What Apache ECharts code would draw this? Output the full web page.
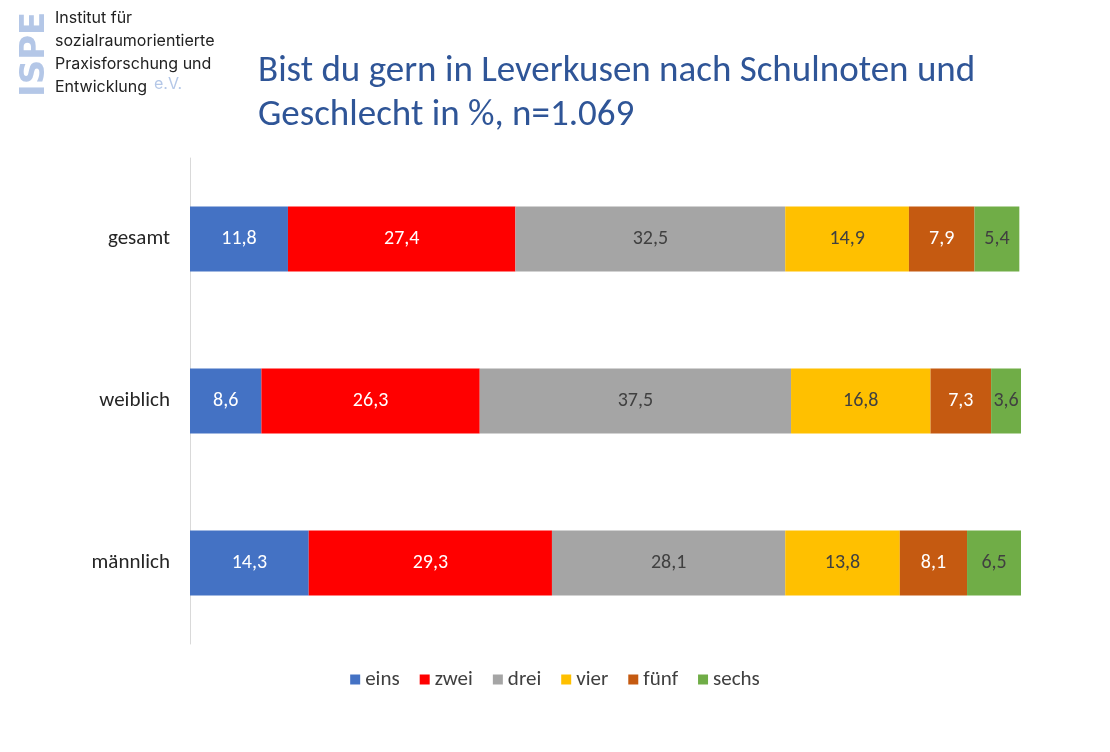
<!DOCTYPE html><html><head><meta charset="utf-8"><script src="https://cdn.jsdelivr.net/npm/echarts@6/dist/echarts.min.js"></script></head><body style="margin:0"><div id="c" style="width:1110px;height:752px"></div><script>
const categories=['männlich','weiblich','gesamt'];
const seriesNames=['eins','zwei','drei','vier','fünf','sechs'];
const colors=['#4472C4','#FF0000','#A5A5A5','#FFC000','#C55A11','#70AD47'];
const eins=[14.3,8.6,11.8], zwei=[29.3,26.3,27.4], drei=[28.1,37.5,32.5], vier=[13.8,16.8,14.9], fuenf=[8.1,7.3,7.9], sechs=[6.5,3.6,5.4];
const values=[eins,zwei,drei,vier,fuenf,sechs];
const labelColors=['#fff','#fff','#404040','#404040','#fff','#404040'];
const ch=echarts.init(document.getElementById('c'));
const ff='Calibri, Carlito, Lato, sans-serif';
ch.setOption({
 textStyle:{fontFamily:ff},
 graphic:[
  {type:'text',left:258,top:50,style:{text:'Bist du gern in Leverkusen nach Schulnoten und\nGeschlecht in %, n=1.069',fill:'#2F5597',font:'37px '+ff,lineHeight:44}},
  {type:'text',x:18,y:97,rotation:Math.PI/2,style:{text:'ISPE',fill:'#B4C7E7',font:'bold 34px "DejaVu Sans", sans-serif'}},
  {type:'text',left:55,top:7,style:{text:'Institut für\nsozialraumorientierte\nPraxisforschung und\nEntwicklung',fill:'#222',font:'16px "Inter", sans-serif',lineHeight:23}},
  {type:'text',left:154,top:76,style:{text:'e.V.',fill:'#B4C7E7',font:'16px "Inter", sans-serif'}}
 ],
 legend:{bottom:57,left:'center',itemWidth:10,itemHeight:10,itemGap:20,icon:'rect',textStyle:{fontSize:21,color:'#404040',fontFamily:ff},data:seriesNames},
 grid:{left:190,right:89,top:158,bottom:108},
 xAxis:{type:'value',min:0,max:100.1,show:false},
 yAxis:{type:'category',data:categories,axisTick:{show:false},axisLine:{lineStyle:{color:'#D9D9D9'}},axisLabel:{fontSize:21,color:'#262626',margin:20}},
 series:values.map((v,i)=>({name:seriesNames[i],type:'bar',stack:'s',data:v,barWidth:'40%',itemStyle:{color:colors[i]},
  label:{show:true,position:'inside',fontSize:20,color:labelColors[i],formatter:p=>String(p.value).replace('.',',')}}))
});
</script></body></html>
